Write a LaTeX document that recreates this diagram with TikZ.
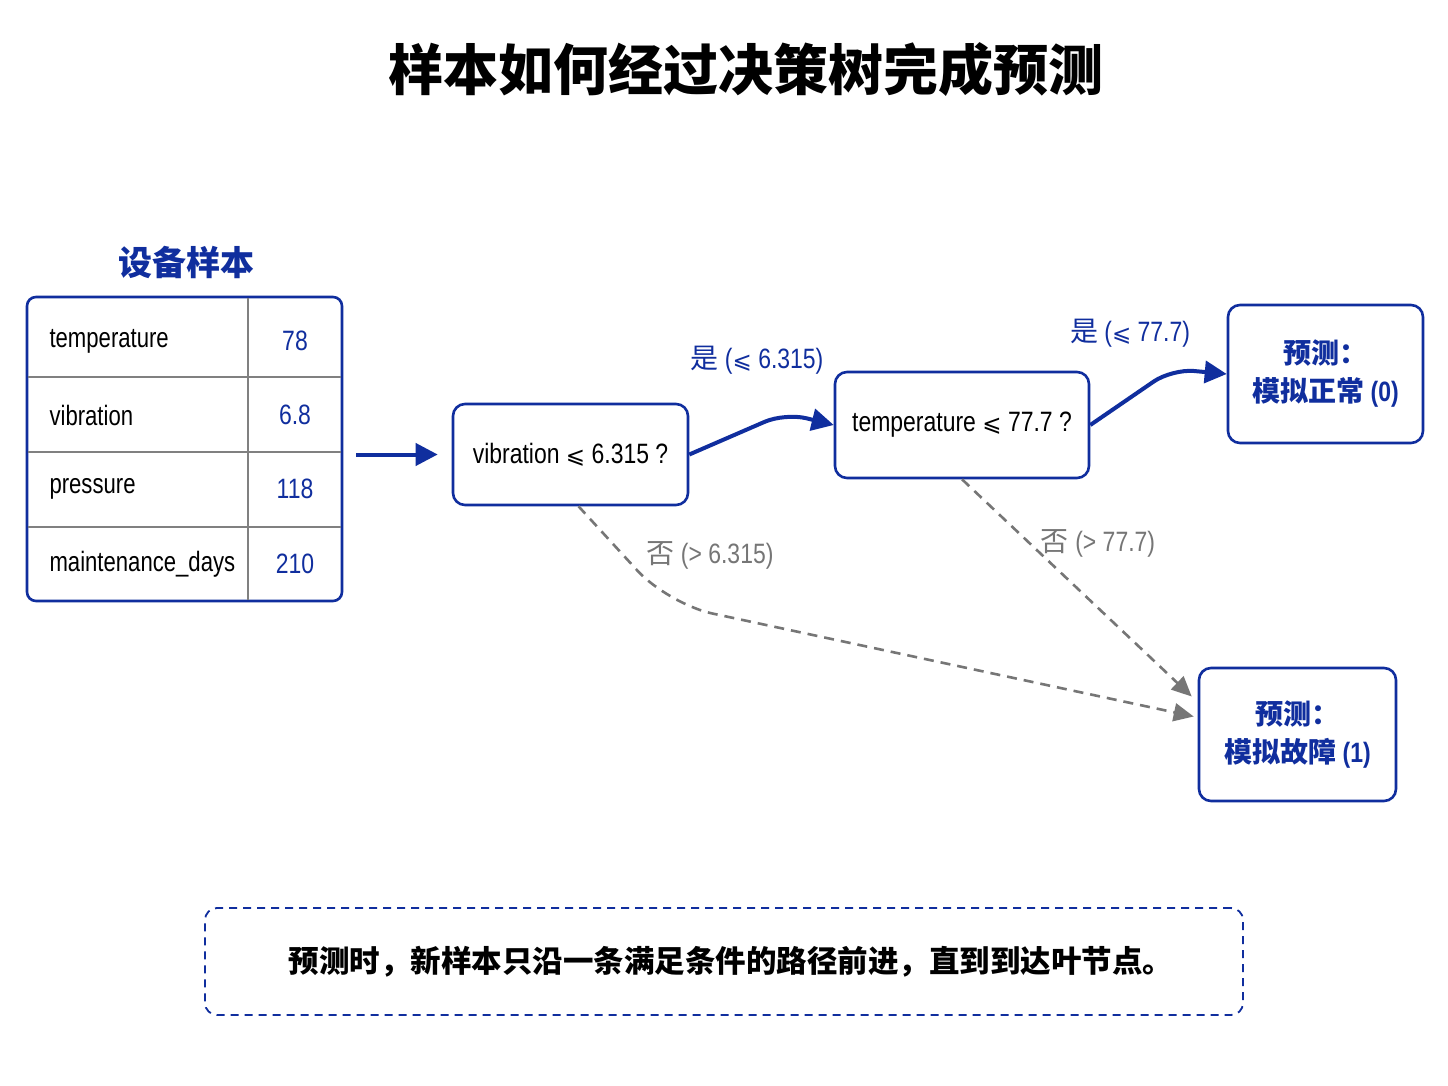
\documentclass[tikz,border=0pt]{standalone}
\usepackage{fontspec}
\setmainfont{Liberation Sans}[FakeStretch=0.82]
\newfontfamily\rowfont{Liberation Sans}[FakeStretch=0.79]
\newfontfamily\cjk{Noto Sans CJK SC}
\newfontfamily\symfont{DejaVu Sans}
\usepackage{xcolor}
\usepackage{tikz}
\usetikzlibrary{arrows.meta,calc,positioning}

\definecolor{navy}{RGB}{16,46,158}
\definecolor{edgegray}{RGB}{118,118,118}
\newcommand{\leqs}{{\symfont\fontsize{23}{23}\selectfont ⩽}}

\tikzset{
    split/.style={draw=navy, line width=2.6pt, rounded corners=12pt, fill=white, align=center},
    leaf/.style={split, font=\fontsize{28}{38}\selectfont\bfseries, text=navy},
    yes/.style={draw=navy, line width=4pt, rounded corners=22pt, -{Triangle[length=22pt,width=22pt]}},
    no/.style={draw=edgegray, line width=2.6pt, dash pattern=on 10pt off 7pt, -{Triangle[length=20pt,width=18pt]}},
}

\begin{document}
\begin{tikzpicture}[x=1pt, y=-1pt, font=\fontsize{28}{32}\selectfont]
        \useasboundingbox[fill=white] (0,0) rectangle (1448,1086);
        % title
        \node[font=\cjk\fontsize{55}{60}\selectfont\bfseries] (title) at (746,70) {样本如何经过决策树完成预测};
        % sample table
        \node[font=\cjk\fontsize{34}{40}\selectfont\bfseries, text=navy] (caption) at (186,262) {设备样本};
        \node[draw=navy, line width=2.6pt, rounded corners=9pt, minimum width=315pt, minimum height=304pt, inner sep=0pt] (tbl) at (184.5,449) {};
        \foreach \y in {377,452,527} \draw[gray, line width=1.2pt] (28,\y) -- (341,\y);
        \draw[gray, line width=1.2pt] (248,298) -- (248,600);
        \foreach \name/\val/\y in {temperature/78/341, vibration/6.8/415, pressure/118/489, maintenance\_days/210/564} {
            \node[anchor=west, font=\rowfont\fontsize{28}{32}\selectfont] at (46,\y) {\name};
            \node[text=navy] at (295,\y) {\val};
        }
        % tree
        \node[split, minimum width=235pt, minimum height=101pt] (v) at (570.5,454.5) {vibration \leqs{} 6.315 ?};
        \node[split, minimum width=254pt, minimum height=106pt] (t) at (962,425) {temperature \leqs{} 77.7 ?};
        \node[leaf, minimum width=195pt, minimum height=138pt] (ok) at (1325.5,374) {{\cjk 预测：}\\{\cjk 模拟正常} (0)};
        \node[leaf, minimum width=197pt, minimum height=133pt] (bad) at (1297.5,734.5) {{\cjk 预测：}\\{\cjk 模拟故障} (1)};
        \draw[draw=navy, line width=4pt, -{Triangle[length=22pt,width=22pt]}] ([xshift=13pt]tbl.east |- v.west) -- ([xshift=-14pt]v.west);
        \draw[yes] (v.east) -- (785,413) -- (t.west);
        \draw[yes] (t.east) -- (1172,369) -- (ok.west);
        \coordinate (nobend) at (668,604);
        \draw[no, rounded corners=45pt] ([xshift=8pt]v.south) -- (nobend) -- ($(bad.west)+(-4,-18)$);
        \draw[no] (t.south) -- ($(bad.west)+(-6,-38)$);
        \node[text=navy] (yes1) at (757,360) {{\cjk 是} (\leqs{} 6.315)};
        \node[text=navy] (yes2) at (1130,333) {{\cjk 是} (\leqs{} 77.7)};
        \node[text=edgegray] (no1) at (710,555) {{\cjk 否} (> 6.315)};
        \node[text=edgegray] (no2) at (1098,543) {{\cjk 否} (> 77.7)};
        % note
        \node[draw=navy, line width=1.8pt, dash pattern=on 8pt off 6pt, rounded corners=12pt, minimum width=1038pt, minimum height=107pt] (note) at (724,961.5) {};
        \node[font=\cjk\fontsize{30.5}{36}\selectfont\bfseries] (notetext) at (731,962) {预测时，新样本只沿一条满足条件的路径前进，直到到达叶节点。};
    \end{tikzpicture}
\end{document}
